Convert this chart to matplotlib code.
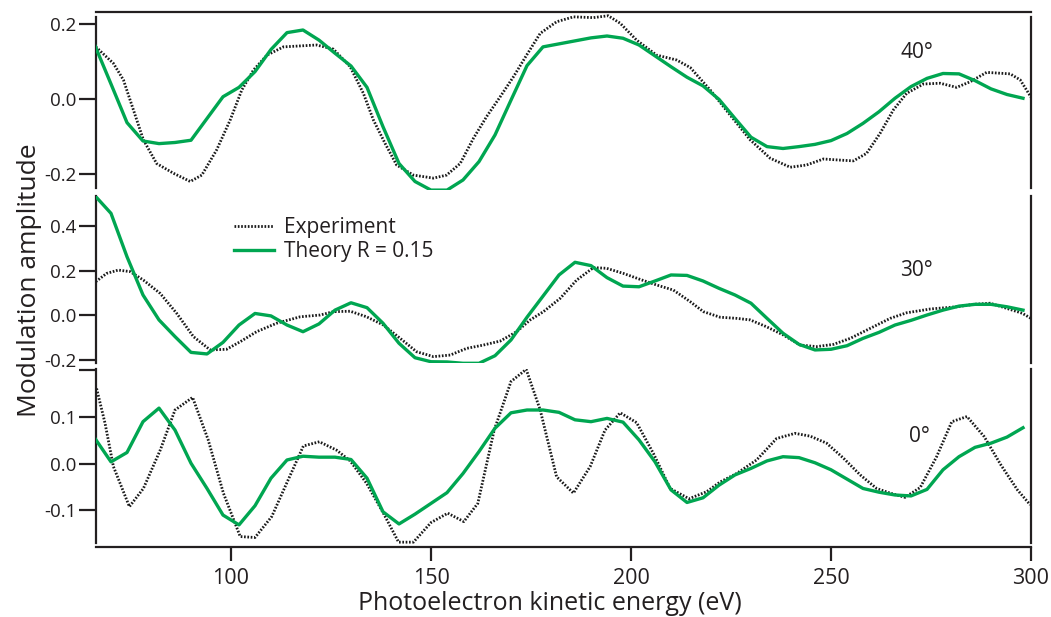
import matplotlib
matplotlib.use("Agg")
import matplotlib.pyplot as plt
from matplotlib.ticker import FixedLocator, FixedFormatter
from matplotlib.lines import Line2D

plt.rcParams['font.family'] = ['Open Sans', 'DejaVu Sans']
plt.rcParams['axes.unicode_minus'] = False

TEXT = '#231F20'
GREEN = '#00A651'
DOT = '#1a1a1a'

# ---------------- data ----------------
theory_x = list(range(66, 299, 4))

theory_40 = [0.142, 0.040, -0.063, -0.112, -0.119, -0.116, -0.110, -0.052, 0.006, 0.031,
             0.073, 0.132, 0.177, 0.184, 0.157, 0.122, 0.088, 0.031, -0.074, -0.172,
             -0.220, -0.243, -0.243, -0.216, -0.167, -0.096, -0.003, 0.089, 0.139, 0.147,
             0.155, 0.163, 0.168, 0.162, 0.144, 0.115, 0.086, 0.058, 0.035, -0.001,
             -0.052, -0.102, -0.127, -0.132, -0.127, -0.121, -0.111, -0.092, -0.065, -0.034,
             0.002, 0.033, 0.055, 0.068, 0.067, 0.049, 0.027, 0.012, 0.002]

theory_30 = [0.536, 0.457, 0.262, 0.090, -0.022, -0.097, -0.168, -0.175, -0.123, -0.045,
             0.007, -0.004, -0.045, -0.075, -0.040, 0.022, 0.055, 0.033, -0.037, -0.127,
             -0.192, -0.210, -0.211, -0.217, -0.217, -0.183, -0.112, -0.010, 0.085, 0.180,
             0.237, 0.222, 0.168, 0.130, 0.127, 0.153, 0.180, 0.178, 0.153, 0.120,
             0.090, 0.053, -0.015, -0.082, -0.132, -0.157, -0.154, -0.138, -0.105, -0.078,
             -0.045, -0.024, 0.000, 0.022, 0.040, 0.048, 0.048, 0.037, 0.022]

theory_0 = [0.054, 0.004, 0.024, 0.090, 0.119, 0.072, 0.001, -0.053, -0.110, -0.131,
            -0.090, -0.031, 0.008, 0.016, 0.014, 0.014, 0.009, -0.031, -0.103, -0.129,
            -0.108, -0.085, -0.062, -0.021, 0.026, 0.076, 0.109, 0.115, 0.115, 0.110,
            0.094, 0.090, 0.097, 0.089, 0.051, 0.004, -0.056, -0.083, -0.073, -0.046,
            -0.024, -0.010, 0.006, 0.015, 0.013, 0.002, -0.013, -0.033, -0.053, -0.061,
            -0.067, -0.069, -0.055, -0.013, 0.015, 0.035, 0.044, 0.057, 0.077]

exp40_x = [66.2, 70.6, 73.1, 75.6, 78.1, 81.4, 85.6, 89.8, 92.7, 96.4, 99.8, 102.7, 105.6,
           109.0, 113.1, 121.4, 125.6, 129.8, 133.1, 135.6, 138.5, 141.4, 145.6, 150.6,
           153.9, 157.3, 160.6, 163.9, 167.3, 170.6, 173.9, 177.3, 181.4, 185.6, 190.6,
           194.3, 197.3, 201.4, 206.4, 211.4, 214.8, 219.8, 224.8, 229.8, 234.8, 239.8,
           243.9, 248.1, 252.3, 255.6, 258.9, 262.3, 265.6, 268.9, 273.1, 277.3, 281.4,
           284.8, 288.9, 294.8, 297.3, 300.0]
exp40_y = [0.139, 0.095, 0.051, -0.029, -0.109, -0.172, -0.198, -0.220, -0.203, -0.136,
           -0.056, 0.024, 0.077, 0.117, 0.139, 0.144, 0.133, 0.086, 0.015, -0.056, -0.118,
           -0.176, -0.203, -0.211, -0.203, -0.172, -0.105, -0.047, 0.006, 0.059, 0.117,
           0.175, 0.206, 0.219, 0.217, 0.222, 0.202, 0.157, 0.117, 0.104, 0.084, 0.024,
           -0.043, -0.109, -0.158, -0.182, -0.176, -0.160, -0.163, -0.165, -0.145, -0.091,
           -0.029, 0.015, 0.040, 0.042, 0.031, 0.046, 0.071, 0.067, 0.051, 0.005]

exp30_x = [66.2, 68.9, 71.8, 74.8, 78.1, 82.3, 86.4, 90.6, 94.8, 98.9, 102.3, 106.4, 111.4,
           117.3, 122.3, 125.6, 129.8, 133.9, 138.1, 142.3, 146.4, 150.6, 154.8, 158.9,
           163.1, 167.3, 171.4, 174.8, 178.1, 182.3, 186.4, 190.6, 193.9, 198.1, 202.3,
           206.4, 210.6, 214.8, 218.1, 222.3, 226.4, 229.8, 233.9, 238.1, 242.3, 246.4,
           250.6, 254.8, 259.8, 264.8, 268.9, 274.8, 281.4, 285.6, 289.8, 293.9, 297.8,
           300.0]
exp30_y = [0.150, 0.187, 0.202, 0.195, 0.157, 0.097, 0.008, -0.097, -0.157, -0.154,
           -0.120, -0.075, -0.037, -0.008, 0.000, 0.015, 0.017, -0.008, -0.045, -0.105,
           -0.165, -0.187, -0.180, -0.150, -0.135, -0.117, -0.075, -0.022, 0.015, 0.075,
           0.157, 0.213, 0.210, 0.187, 0.160, 0.135, 0.112, 0.060, 0.015, -0.010, -0.015,
           -0.022, -0.053, -0.090, -0.135, -0.142, -0.132, -0.105, -0.060, -0.015, 0.010,
           0.027, 0.037, 0.048, 0.053, 0.030, 0.008, -0.015]

exp0_x = [66.4, 68.5, 70.6, 74.6, 78.1, 82.3, 86.0, 90.4, 94.3, 98.1, 102.3, 106.0, 110.2,
          113.9, 118.1, 122.1, 126.4, 129.8, 133.9, 138.1, 141.9, 145.6, 150.0, 154.2,
          158.2, 161.7, 165.8, 170.0, 173.8, 177.3, 181.4, 185.6, 189.8, 193.5, 197.3,
          201.4, 205.6, 209.8, 214.5, 218.9, 222.3, 226.4, 231.4, 236.4, 241.0, 244.8,
          248.9, 253.1, 257.3, 261.4, 264.8, 268.5, 272.3, 276.4, 280.2, 284.0, 288.3,
          292.5, 296.6, 299.8]
exp0_y = [0.161, 0.087, -0.006, -0.092, -0.053, 0.029, 0.115, 0.142, 0.051, -0.063,
          -0.156, -0.158, -0.113, -0.042, 0.038, 0.047, 0.029, 0.006, -0.042, -0.106,
          -0.168, -0.168, -0.126, -0.106, -0.124, -0.085, 0.072, 0.176, 0.202, 0.115,
          -0.028, -0.063, -0.006, 0.072, 0.109, 0.088, 0.022, -0.053, -0.075, -0.060,
          -0.039, -0.021, 0.008, 0.054, 0.065, 0.059, 0.044, 0.012, -0.024, -0.053,
          -0.063, -0.072, -0.051, 0.015, 0.090, 0.101, 0.058, -0.003, -0.056, -0.088]

x_ticks = [100, 150, 200, 250, 300]
panel_labels = ['40°', '30°', '0°']
legend_labels = ['Experiment', 'Theory R = 0.15']

# ---------------- figure ----------------
W, H = 1051, 617
fig = plt.figure(figsize=(W / 100, H / 100), dpi=100)

def frac(top_px, bot_px):
    return [95.7 / W, 1 - bot_px / H, (1031 - 95.7) / W, (bot_px - top_px) / H]

ax_top = fig.add_axes(frac(12, 190))
ax_mid = fig.add_axes(frac(196, 363))
ax_bot = fig.add_axes(frac(369, 547.3))

panels = [
    (ax_top, exp40_x, exp40_y, theory_40, (-0.2427, 0.232), [-0.2, 0.0, 0.2],
     ['-0.2', '0.0', '0.2'], (-0.238, 0.218)),
    (ax_mid, exp30_x, exp30_y, theory_30, (-0.2157, 0.535), [-0.2, 0.0, 0.2, 0.4],
     ['-0.2', '0.0', '0.2', '0.4'], None),
    (ax_bot, exp0_x, exp0_y, theory_0, (-0.179, 0.2028), [-0.1, 0.0, 0.1, 0.2],
     ['-0.1', '0.0', '0.1', ''], (-0.169, 0.2028)),
]

DOTSTYLE = (0, (0.6, 0.6))

for ax, ex, ey, th, ylim, yt, ytl, bounds in panels:
    ax.plot(ex, ey, color=DOT, lw=2.0, ls=DOTSTYLE, zorder=3)
    ax.plot(theory_x, th, color=GREEN, lw=2.4, zorder=4, solid_joinstyle='round')
    ax.set_xlim(66.175, 300)
    ax.set_ylim(*ylim)
    ax.patch.set_alpha(0)
    for s in ['left', 'right', 'top', 'bottom']:
        ax.spines[s].set_linewidth(1.6)
        ax.spines[s].set_color(TEXT)
    ax.spines['bottom'].set_visible(False)
    ax.spines['top'].set_visible(False)
    if bounds is not None:
        ax.spines['left'].set_bounds(*bounds)
        ax.spines['right'].set_bounds(*bounds)
    ax.yaxis.set_major_locator(FixedLocator(yt))
    ax.yaxis.set_major_formatter(FixedFormatter(ytl))
    ax.tick_params(axis='y', direction='out', length=12.5, width=1.6, color=TEXT,
                   labelsize=13.5, labelcolor=TEXT, pad=1.5, right=False)
    ax.tick_params(axis='x', bottom=False, labelbottom=False, top=False)

ax_top.spines['top'].set_visible(True)
ax_bot.spines['bottom'].set_visible(True)
ax_bot.xaxis.set_major_locator(FixedLocator(x_ticks))
ax_bot.tick_params(axis='x', bottom=True, labelbottom=True, direction='out', length=10,
                   width=1.6, color=TEXT, labelsize=15.5, labelcolor=TEXT, pad=5)

# panel labels
for lab, (px, py) in [(panel_labels[0], (916.5, 52)), (panel_labels[1], (916.5, 270)),
                      (panel_labels[2], (919, 437))]:
    fig.text(px / W, 1 - py / H, lab, fontsize=15, color=TEXT, ha='center', va='center')

# legend
handles = [Line2D([], [], color=DOT, lw=2.0, ls=DOTSTYLE),
           Line2D([], [], color=GREEN, lw=2.4)]
fig.legend(handles, legend_labels, loc='upper left',
           bbox_to_anchor=(226 / W, 1 - 209 / H), frameon=False, fontsize=15,
           handlelength=1.9, handletextpad=0.5, labelspacing=0.15, borderaxespad=0,
           labelcolor=TEXT)

fig.text(550 / W, 1 - 604 / H, 'Photoelectron kinetic energy (eV)', fontsize=18,
         color=TEXT, ha='center', va='center')
fig.text(30 / W, 1 - 280 / H, 'Modulation amplitude', fontsize=19, color=TEXT,
         ha='center', va='center', rotation=90)

fig.savefig('out.png', dpi=100)
